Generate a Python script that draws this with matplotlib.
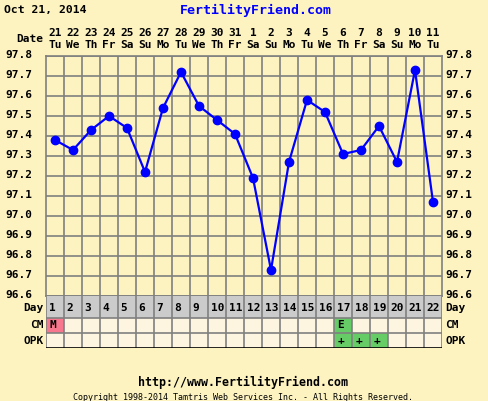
import matplotlib.pyplot as plt
from matplotlib.patches import Rectangle

days = list(range(1, 23))
dates = ['21', '22', '23', '24', '25', '26', '27', '28', '29', '30', '31',
         '1', '2', '3', '4', '5', '6', '7', '8', '9', '10', '11']
weekdays = ['Tu', 'We', 'Th', 'Fr', 'Sa', 'Su', 'Mo', 'Tu', 'We', 'Th', 'Fr',
            'Sa', 'Su', 'Mo', 'Tu', 'We', 'Th', 'Fr', 'Sa', 'Su', 'Mo', 'Tu']
temps = [97.38, 97.33, 97.43, 97.50, 97.44, 97.22, 97.54, 97.72, 97.55, 97.48, 97.41,
         97.19, 96.73, 97.27, 97.58, 97.52, 97.31, 97.33, 97.45, 97.27, 97.73, 97.07]
yticks = [96.6, 96.7, 96.8, 96.9, 97.0, 97.1, 97.2, 97.3, 97.4, 97.5, 97.6, 97.7, 97.8]
cm = {1: 'M', 17: 'E'}
opk = {17: '+', 18: '+', 19: '+'}

W, H = 488, 401
bg = '#FDF3C1'
font = dict(family='DejaVu Sans Mono', weight='bold', color='black')
fs = 8

fig = plt.figure(figsize=(W / 100, H / 100), dpi=100)
fig.patch.set_facecolor(bg)

def fx(px):
    return px / W

def fy(py):
    return 1 - py / H

# temperature chart
ax = fig.add_axes([fx(46), fy(296), fx(396), 240 / H])
ax.set_facecolor(bg)
ax.set_xlim(0.5, 22.5)
ax.set_ylim(96.6, 97.8)
for d in range(1, 22):
    ax.axvline(d + 0.5, color='#808080', lw=1.2, zorder=1)
for t in yticks:
    ax.axhline(t, color='#808080', lw=1.2, zorder=1)
ax.plot(days, temps, color='#0000FF', lw=1.6, marker='o', ms=6, zorder=3)
ax.set_xticks([])
ax.set_yticks([])
for s in ax.spines.values():
    s.set_color('#808080')
    s.set_linewidth(1.2)

for t in yticks:
    ax.text(-0.25, t + 0.006, '%.1f' % t, ha='right', va='center', fontsize=fs, **font,
            clip_on=False)
    ax.text(22.7, t + 0.006, '%.1f' % t, ha='left', va='center', fontsize=fs, **font,
            clip_on=False)

for d, dt, wd in zip(days, dates, weekdays):
    ax.text(d, 97.8 + 23 / 200, dt, ha='center', va='center', fontsize=fs, **font,
            clip_on=False)
    ax.text(d, 97.8 + 11 / 200, wd, ha='center', va='center', fontsize=fs, **font,
            clip_on=False)
ax.text(0.35, 97.8 + 17 / 200, 'Date', ha='right', va='center', fontsize=fs, **font,
        clip_on=False)

# day / CM / OPK rows
tb = fig.add_axes([fx(46), fy(348), fx(396), 52 / H])
tb.set_xlim(0.5, 22.5)
tb.set_ylim(0, 52)
tb.set_xticks([])
tb.set_yticks([])
tb.axis('off')
rows = [(30, 22, '#CBCBCB'), (15, 15, '#FDF5E0'), (0, 15, '#FDF5E0')]
for y0, h, c in rows:
    tb.add_patch(Rectangle((0.5, y0), 22, h, facecolor=c, edgecolor='none'))
for d, c in cm.items():
    col = '#F7788E' if c == 'M' else '#66CC66'
    tb.add_patch(Rectangle((d - 0.5, 15), 1, 15, facecolor=col, edgecolor='none'))
    tb.text(d - 0.3, 22.5, c, ha='left', va='center', fontsize=fs, **font)
for d, c in opk.items():
    tb.add_patch(Rectangle((d - 0.5, 0), 1, 15, facecolor='#66CC66', edgecolor='none'))
    tb.text(d - 0.3, 7.5, c, ha='left', va='center', fontsize=fs, **font)
for d in days:
    tb.text(d - 0.35, 40, str(d), ha='left', va='center', fontsize=fs, **font)
for d in range(0, 23):
    tb.plot([d + 0.5, d + 0.5], [0, 52], color='#808080', lw=1.2)
for y in [0, 15, 30]:
    tb.plot([0.5, 22.5], [y, y], color='#000000' if y == 0 else '#808080', lw=1.2)
for lbl, y in [('Day', 40), ('CM', 22.5), ('OPK', 7.5)]:
    tb.text(0.35, y, lbl, ha='right', va='center', fontsize=fs, **font)
    tb.text(22.7, y, lbl, ha='left', va='center', fontsize=fs, **font)

# header and footer
fig.text(fx(4), fy(10), 'Oct 21, 2014', ha='left', va='center', fontsize=8.2, **font)
fig.text(fx(256), fy(10), 'FertilityFriend.com', ha='center', va='center', fontsize=9.5,
         family='DejaVu Sans Mono', weight='bold', color='#0000FF')
fig.text(fx(243), fy(382), 'http://www.FertilityFriend.com', ha='center', va='center',
         fontsize=8.4, **font)
fig.text(fx(243), fy(397), 'Copyright 1998-2014 Tamtris Web Services Inc. - All Rights Reserved.',
         ha='center', va='center', fontsize=6, family='DejaVu Sans Mono', color='black')

fig.savefig('out.png', dpi=100, facecolor=bg)
